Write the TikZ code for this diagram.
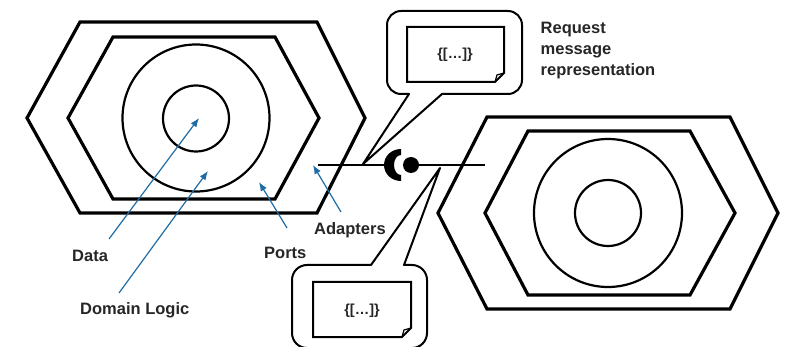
\documentclass[tikz,border=0pt]{standalone}
\usepackage{fontspec}
\setmainfont{Liberation Sans}
\usetikzlibrary{arrows.meta}
\definecolor{arrowblue}{HTML}{1F6CA5}
\definecolor{ink}{HTML}{262626}
\tikzset{
  x=1pt,y=-1pt,
  shell/.style={draw=black,line width=3.2pt,line join=miter},
  thin shell/.style={draw=black,line width=2.2pt},
  bubble/.style={draw=black,line width=2pt,line join=round},
  docbox/.style={draw=black,line width=2pt},
  pointer/.style={draw=arrowblue,line width=1.2pt,-{Latex[length=9pt,width=7pt]}},
  wire/.style={draw=black,line width=2pt},
  lbl/.style={font=\fontsize{16.5}{19}\selectfont\bfseries,text=ink,inner sep=0pt,anchor=base west,align=left},
  doctext/.style={font=\fontsize{14.5}{17}\selectfont\bfseries,text=ink,inner sep=0pt}
}
\begin{document}
\begin{tikzpicture}
\useasboundingbox (0,0) rectangle (787,347);
\clip (0,0) rectangle (787,347);
% left hexagon
\draw[shell] (27,118) -- (80,22) -- (317,22) -- (365,118) -- (317,213) -- (80,213) -- cycle;
\draw[shell] (68,118) -- (113,37) -- (275,37) -- (319,118) -- (275,199) -- (113,199) -- cycle;
\draw[thin shell] (196,118) circle[radius=73.5];
\draw[thin shell] (196,118.5) circle[radius=33];
% right hexagon
\draw[shell] (438,213) -- (487,117) -- (730,117) -- (778,213) -- (730,309) -- (487,309) -- cycle;
\draw[shell] (485,213) -- (528,131) -- (690,131) -- (735,213) -- (690,295) -- (528,295) -- cycle;
\draw[thin shell] (608,213) circle[radius=74];
\draw[thin shell] (608,213) circle[radius=33];
% wires
\coordinate (wl) at (318,165);
\coordinate (wr) at (485,165);
\coordinate (sock) at (388,165);
\node[circle,fill=black,minimum size=16pt,inner sep=0pt] (ball) at (411,165) {};
\draw[wire] (wl) -- (sock);
\draw[wire] (ball) -- (wr);
% socket
\fill[black] (401,149) .. controls (391.4,149) and (384,156.2) .. (384,165)
  .. controls (384,173.8) and (391.4,181) .. (401,181) -- (401,175)
  .. controls (397,175) and (394,170.5) .. (394,165)
  .. controls (394,159.5) and (397,155) .. (401,155) -- cycle;
% top bubble
\draw[bubble] (409,94) -- (363,164) -- (442,94) [rounded corners=14pt] -- (522,94) -- (522,11) -- (387,11) -- (387,94) [sharp corners] -- cycle;
\draw[docbox] (407,27) -- (504,27) -- (504,73) -- (495,82) -- (407,82) -- cycle;
\draw[line width=1.2pt] (495,82) -- (497,75) -- (504,73);
\node[doctext] (doca) at (455,55) {\{[…]\}};
% bottom bubble
\draw[bubble] (371,265) -- (440,168) -- (404,265) [rounded corners=15pt] -- (427,265) -- (427,348) -- (292,348) -- (292,265) [sharp corners] -- cycle;
\draw[docbox] (313,282) -- (411,282) -- (411,328) -- (402,337) -- (313,337) -- cycle;
\draw[line width=1.2pt] (402,337) -- (404,330) -- (411,328);
\node[doctext] (docb) at (362,311) {\{[…]\}};
% labels
\node[lbl] (req) at (540.5,34) {Request};
\node[lbl] (msg) at (540.5,55) {message};
\node[lbl] (rep) at (540.5,76) {representation};
\node[lbl] (data) at (72,261.5) {Data};
\node[lbl] (dom) at (80,315) {Domain Logic};
\node[lbl] (ports) at (264,259) {Ports};
\node[lbl] (adapt) at (314,235) {Adapters};
% pointers
\coordinate (tdata) at (199,118);
\coordinate (tdom) at (208,171);
\coordinate (tports) at (259,182);
\coordinate (tadapt) at (313,165);
\coordinate (sdata) at (109,239);
\coordinate (sdom) at (119,293);
\coordinate (sports) at (287,228);
\coordinate (sadapt) at (341,212);
\draw[pointer] (sdata) -- (tdata);
\draw[pointer] (sdom) -- (tdom);
\draw[pointer] (sports) -- (tports);
\draw[pointer] (sadapt) -- (tadapt);
\end{tikzpicture}
\end{document}
